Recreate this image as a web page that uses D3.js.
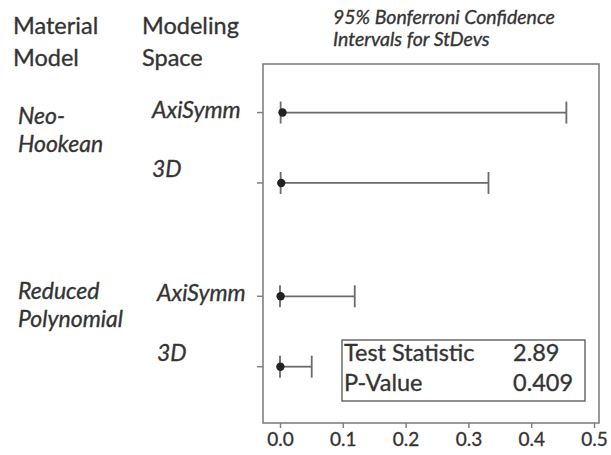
<!DOCTYPE html>
<html><head><meta charset="utf-8">
<script src="https://cdn.jsdelivr.net/npm/d3@7"></script>
<style>
body{margin:0;background:#fff;}
text{font-family:Lato, "Open Sans", sans-serif;fill:#333;stroke:#3a3a3a;stroke-width:0.35px;}
</style></head>
<body><svg id="c" width="611" height="455"></svg>
<script>
// ---- data ----
const materialModels = ["Neo-Hookean", "Reduced Polynomial"];
const modelingSpaces = ["AxiSymm", "3D"];
const lowerCI = [0.001, 0.001, 0.000, 0.000];
const pointEst = [0.004, 0.002, 0.001, 0.0006];
const upperCI = [0.456, 0.332, 0.119, 0.0505];
const xTicks = [0.0, 0.1, 0.2, 0.3, 0.4, 0.5];
const statLabels = ["Test Statistic", "P-Value"];
const statValues = ["2.89", "0.409"];

const rows = [];
materialModels.forEach((m, gi) => modelingSpaces.forEach((s, si) => {
  const i = gi * modelingSpaces.length + si;
  rows.push({material: m, space: s, gi, si, lo: lowerCI[i], pt: pointEst[i], hi: upperCI[i]});
}));

const svg = d3.select("#c");
const L = 263, R = 599, T = 64, B = 423;
const groupStep = 2.61;
const x = d3.scaleLinear().domain([0, 0.5]).range([280, 594]);
const y = d3.scaleLinear().domain([-0.69, 4.41]).range([T, B]);
const rowY = d => y(d.gi * groupStep + d.si);

const grey = "#6b6b6b";
const txtCol = "#3a3a3a";

// frame
svg.append("rect").attr("x", L).attr("y", T).attr("width", R - L).attr("height", B - T)
  .attr("fill", "none").attr("stroke", "#808080").attr("stroke-width", 1.6);

// x axis
const xAxis = d3.axisBottom(x).tickValues(xTicks).tickFormat(d3.format(".1f")).tickSize(5).tickPadding(5);
const gx = svg.append("g").attr("transform", `translate(0,${B})`).call(xAxis);
gx.select(".domain").remove();
gx.selectAll("line").attr("stroke", "#808080").attr("stroke-width", 1.5);
gx.selectAll("text").attr("font-size", 19).attr("fill", txtCol).style("font-family", "Lato, sans-serif");

// y ticks
svg.selectAll(".yt").data(rows).join("line")
  .attr("x1", L - 6).attr("x2", L).attr("y1", rowY).attr("y2", rowY)
  .attr("stroke", "#808080").attr("stroke-width", 1.5);

// intervals
const g = svg.append("g");
g.selectAll(".ci").data(rows).join("line")
  .attr("x1", d => x(d.lo)).attr("x2", d => x(d.hi)).attr("y1", rowY).attr("y2", rowY)
  .attr("stroke", grey).attr("stroke-width", 1.8);
["lo", "hi"].forEach(k => {
  g.selectAll(".cap" + k).data(rows).join("line")
    .attr("x1", d => x(d[k])).attr("x2", d => x(d[k]))
    .attr("y1", d => rowY(d) - 11).attr("y2", d => rowY(d) + 11)
    .attr("stroke", grey).attr("stroke-width", 1.8);
});
g.selectAll(".pt").data(rows).join("circle")
  .attr("cx", d => x(d.pt)).attr("cy", rowY).attr("r", 4.2).attr("fill", "#222");

// stats box
const box = svg.append("g");
box.append("rect").attr("x", 342).attr("y", 340).attr("width", 243).attr("height", 61)
  .attr("fill", "#fff").attr("stroke", "#555").attr("stroke-width", 1.3);
statLabels.forEach((s, i) => {
  box.append("text").attr("x", 344).attr("y", 361 + i * 30).attr("font-size", 23.5).attr("fill", "#222").text(s);
  box.append("text").attr("x", 513).attr("y", 361 + i * 30).attr("font-size", 23.5).attr("fill", "#222").text(statValues[i]);
});

// headers
const hdr = (txt, xx, yy) => svg.append("text").attr("x", xx).attr("y", yy).attr("font-size", 23.5).attr("fill", txtCol).text(txt);
hdr("Material", 13, 34); hdr("Model", 13, 66);
hdr("Modeling", 142, 34); hdr("Space", 142, 66);
const ttl = (txt, yy) => svg.append("text").attr("x", 333).attr("y", yy).attr("font-size", 19.5)
  .attr("font-style", "italic").attr("fill", txtCol).text(txt);
ttl("95% Bonferroni Confidence", 24); ttl("Intervals for StDevs", 46);

// material model labels
const matLines = [["Neo-", "Hookean"], ["Reduced", "Polynomial"]];
const matOffset = [11, 3];
materialModels.forEach((m, gi) => {
  const y0 = y(gi * groupStep) + matOffset[gi];
  matLines[gi].forEach((ln, k) => svg.append("text").attr("x", 18).attr("y", y0 + k * 28)
    .attr("font-size", 23).attr("font-style", "italic").attr("fill", txtCol).text(ln));
});

// modeling space labels
svg.selectAll(".sp").data(rows).join("text")
  .attr("x", d => d.gi === 0 ? 152 : 157)
  .attr("y", d => rowY(d) + (d.si === 0 ? 5 : -6))
  .attr("font-size", 23).attr("font-style", "italic").attr("fill", txtCol)
  .text(d => d.space);
</script></body></html>
